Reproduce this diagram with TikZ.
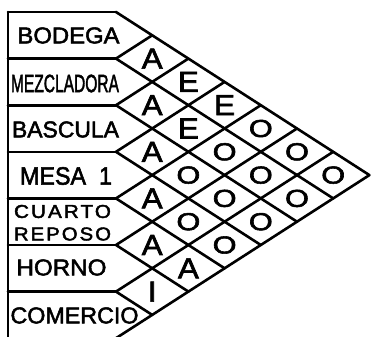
\documentclass[tikz,border=0pt]{standalone}
\usepackage{fontspec}
\setmainfont{Liberation Sans}[FakeBold=2.2]
\usepackage{graphicx}

\begin{document}
\begin{tikzpicture}[
    x=1pt, y=-1pt,
    grid/.style={line width=2.6pt, line cap=round, line join=round},
    rel/.style={inner sep=0pt, font=\fontsize{29}{29}\selectfont},
    relo/.style={inner sep=0pt, font=\fontsize{24.5}{24.5}\selectfont},
    dept/.style={inner sep=0pt, font=\fontsize{21}{21}\selectfont}
  ]
  \useasboundingbox (0,0) rectangle (372,337);
  \clip (0,0) rectangle (372,337);
  \def\xl{8} \def\xr{116} \def\dx{36.2} \def\h{46.6} \def\yt{12}
  % corners of the department boxes
  \foreach \k in {0,...,7}
    \coordinate (k\k) at (\xr, {\yt+\k*\h});
  % left edge and box dividers
  \draw[grid] (\xl,\yt) -- (\xl, {\yt+7*\h});
  \foreach \k in {0,...,6}
    \draw[grid] (\xl, {\yt+\k*\h}) -- (k\k);
  % diagonal grid of the chart
  \foreach \k in {0,...,7} {
    \draw[grid] (k\k) -- ++({(7-\k)*\dx}, {(7-\k)*\h/2});
    \draw[grid] (k\k) -- ++({\k*\dx}, {-\k*\h/2});
  }

  % departments
  \node[dept] (bodega) at (68.5,35.5) {\resizebox{102pt}{16pt}{BODEGA}};
  \node[dept, font=\fontsize{23.5}{23.5}\selectfont] (mezcla) at (65,83.5)
    {\resizebox{108pt}{17.5pt}{MEZCLADORA}};
  \node[dept] (bascula) at (65.5,129.5) {\resizebox{107pt}{16pt}{BASCULA}};
  \node[dept, font=\fontsize{23.5}{23.5}\selectfont] (mesa) at (66,176)
    {\resizebox{92pt}{17.5pt}{MESA\ \ 1}};
  \node[dept, font=\fontsize{17.5}{17.5}\selectfont] (cuarto) at (62.5,211.5)
    {\resizebox{97pt}{13pt}{\addfontfeature{LetterSpace=10}CUARTO}};
  \node[dept, font=\fontsize{17.5}{17.5}\selectfont] (reposo) at (62.5,234)
    {\resizebox{97pt}{13pt}{\addfontfeature{LetterSpace=10}REPOSO}};
  \node[dept] (horno) at (61.5,267.5) {\resizebox{90pt}{16pt}{HORNO}};
  \node[dept] (comercio) at (74.5,315.5) {\resizebox{128pt}{16pt}{COMERCIO}};

  % closeness ratings
  \foreach \i/\j/\r in {1/2/A, 1/3/E, 1/4/E, 2/3/A, 2/4/E,
                        3/4/A, 4/5/A, 5/6/A, 5/7/A, 6/7/I}
    \node[rel] (r\i\j) at ({\xr+(\j-\i)*\dx}, {\yt+(\i+\j-1)*\h/2})
      {\scalebox{1.08}[1]{\r}};
  \foreach \i/\j in {1/5, 1/6, 1/7, 2/5, 2/6, 2/7,
                     3/5, 3/6, 3/7, 4/6, 4/7}
    \node[relo] (r\i\j) at ({\xr+(\j-\i)*\dx}, {\yt+(\i+\j-1)*\h/2})
      {\scalebox{1.25}[1]{O}};
\end{tikzpicture}
\end{document}
